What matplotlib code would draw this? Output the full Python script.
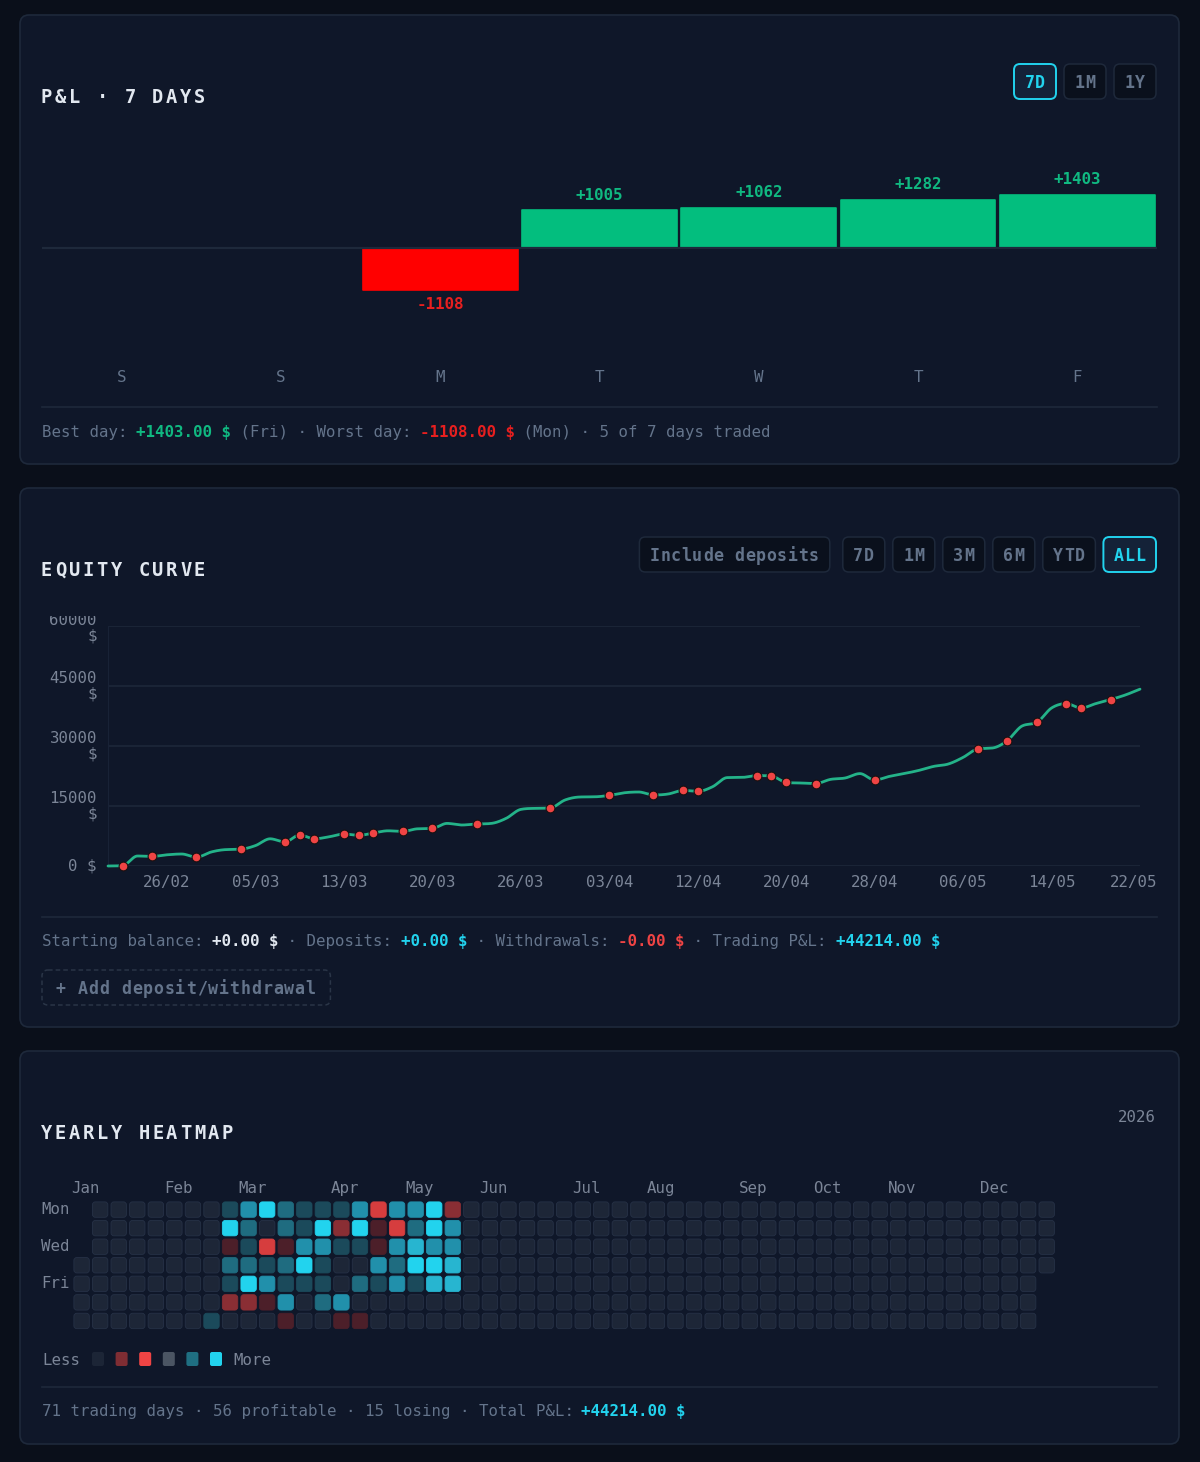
import datetime as dt

import numpy as np
import matplotlib
matplotlib.use("Agg")
import matplotlib.pyplot as plt
from matplotlib.patches import FancyBboxPatch
from matplotlib.transforms import Bbox, TransformedBbox

W, H, DPI = 1200, 1462, 100
FONT = "DejaVu Sans Mono"
plt.rcParams["font.family"] = [FONT, "DejaVu Sans"]

# ---- palette -----------------------------------------------------------------
BG = "#0a0f1a"
PANEL = "#0f1729"
BORDER = "#1e293b"
TITLE = "#e2e8f0"
MUTED = "#64748b"
AXIS_TXT = "#7b8597"
CYAN = "#22d3ee"
GREEN = "#10b981"
GREEN_BAR = "#03be7e"
RED_BAR = "#ff0000"
RED_TXT = "#e81f1f"
RED = "#ef4444"
LINE = "#24b389"

# ---- data: P&L 7 days ----------------------------------------------------------
DAYS = ["S", "S", "M", "T", "W", "T", "F"]
DAY_PNL = [0, 0, -1108, 1005, 1062, 1282, 1403]

# ---- data: equity curve (one point per trading day) ----------------------------
EQUITY = [
    0, 100, 2500, 2400, 2800, 3000, 2200, 3500, 4100, 4200,
    5100, 6800, 6000, 7750, 6800, 7300, 8000, 7650, 8250, 8800,
    8650, 9300, 9400, 10650, 10250, 10500, 10650, 11900, 14150, 14400,
    14500, 16500, 17250, 17300, 17650, 18300, 18500, 17750, 18000, 18900,
    18650, 19800, 22100, 22150, 22600, 22500, 20900, 20750, 20600, 21650,
    22000, 23100, 21500, 22400, 23100, 23900, 24900, 25500, 27150, 29250,
    29500, 31350, 35000, 35900, 39500, 40600, 39500, 40600, 41600, 42750,
    44214,
]
MARKED_DAYS = [1, 3, 6, 9, 12, 13, 14, 16, 17, 18, 20, 22, 25, 30, 34, 37, 39,
               40, 44, 45, 46, 48, 52, 59, 61, 63, 65, 66, 68]
EQ_TICK_POS = [4, 10, 16, 22, 28, 34, 40, 46, 52, 58, 64, 70]
EQ_TICK_LABELS = ["26/02", "05/03", "13/03", "20/03", "26/03", "03/04",
                  "12/04", "20/04", "28/04", "06/05", "14/05", "22/05"]
EQ_YTICKS = [0, 15000, 30000, 45000, 60000]
EQ_YLABELS = ["0 $", "15000\n$", "30000\n$", "45000\n$", "60000\n$"]

# ---- data: yearly heatmap ------------------------------------------------------
HEAT_YEAR = 2026
MONTHS = ["Jan", "Feb", "Mar", "Apr", "May", "Jun",
          "Jul", "Aug", "Sep", "Oct", "Nov", "Dec"]
MONTH_COLS = [0, 5, 9, 14, 18, 22, 27, 31, 36, 40, 44, 49]
WEEKDAY_LABELS = {0: "Mon", 2: "Wed", 4: "Fri"}
HEAT_FIRST_WEEK = 7
# rows Mon..Sun, columns = weeks 7..20; >0 profit intensity, <0 loss intensity
HEAT_LEVELS = [
    [0, 1, 3, 5, 2, 1, 1, 1, 3, -3, 3, 3, 5, -2],
    [0, 5, 2, 0, 2, 1, 5, -2, 5, -1, -3, 2, 5, 3],
    [0, -1, 1, -3, -1, 3, 3, 1, 1, -1, 3, 4, 3, 3],
    [0, 2, 2, 1, 2, 5, 1, 0, 0, 3, 2, 5, 5, 4],
    [0, 1, 5, 3, 1, 1, 1, 0, 2, 1, 3, 1, 4, 4],
    [0, -2, -2, -1, 3, 0, 2, 3, 0, 0, 0, 0, 0, 0],
    [1, 0, 0, 0, -1, 0, 0, -1, -1, 0, 0, 0, 0, 0],
]
LEVEL_COLORS = {
    0: "#1d2637", 1: "#1b4a5b", 2: "#1f6c80", 3: "#2190ab", 4: "#27b5d0",
    5: "#22d3ee", -1: "#4c1f29", -2: "#8a2e34", -3: "#d63d3e",
}
LEGEND_COLORS = ["#1c2536", "#7f2d33", "#ef4444", "#4b5563", "#1f6f82", "#22d3ee"]


# ---- helpers -------------------------------------------------------------------
def px_axes(fig, left, top, right, bottom):
    return fig.add_axes([left / W, 1 - bottom / H, (right - left) / W, (bottom - top) / H])


def base_y(y_center, size):
    # put the baseline so that capitals sit centred on y_center
    return y_center + 0.365 * size * DPI / 72


def segments(ax, x, y, parts, size=11.3):
    adv = 0.602 * size * DPI / 72
    for txt, color, weight in parts:
        ax.text(x, base_y(y, size), txt, color=color, fontweight=weight,
                fontsize=size, ha="left", va="baseline", family=FONT)
        x += len(txt) * adv


def spaced(ax, x, y, txt, step, size, color, weight="bold"):
    for i, ch in enumerate(txt):
        ax.text(x + i * step, base_y(y, size), ch, color=color, fontsize=size,
                fontweight=weight, ha="left", va="baseline", family=FONT)


def panel(ax, top, bottom):
    ax.add_patch(FancyBboxPatch((20, top), 1159, bottom - top,
                                boxstyle="round,pad=0,rounding_size=9",
                                fc=PANEL, ec=BORDER, lw=1.2, zorder=1))


def button(ax, x0, top, label, active=False, dashed=False, step=10.6, size=12, pad=10.4):
    w = len(label) * step + 2 * pad
    if dashed:
        fc, ec, ls, tc = "none", "#2a3547", (0, (3, 2)), MUTED
    elif active:
        fc, ec, ls, tc = "#142238", CYAN, "-", CYAN
    else:
        fc, ec, ls, tc = "#0a101c", BORDER, "-", MUTED
    ax.add_patch(FancyBboxPatch((x0, top), w, 35, boxstyle="round,pad=0,rounding_size=6",
                                fc=fc, ec=ec, lw=1.4 if active else 1.1, ls=ls, zorder=2))
    spaced(ax, x0 + pad, top + 17.5, label, step, size, tc)
    return w


def button_row(ax, labels, active, right, top, gaps):
    x = right
    for label, gap in zip(reversed(labels), reversed(gaps)):
        w = len(label) * 10.6 + 20.8
        x -= w
        button(ax, x, top, label, active=(label == active))
        x -= gap


def monotone_curve(y, n=24):
    y = np.asarray(y, float)
    x = np.arange(len(y), dtype=float)
    d = np.diff(y)
    m = np.zeros_like(y)
    m[0], m[-1] = d[0], d[-1]
    same = d[:-1] * d[1:] > 0
    m[1:-1] = np.where(same, (d[:-1] + d[1:]) / 2, 0.0)
    for k in range(len(d)):
        if d[k] == 0:
            m[k] = m[k + 1] = 0.0
            continue
        a, b = m[k] / d[k], m[k + 1] / d[k]
        s = a * a + b * b
        if s > 9:
            t = 3 / np.sqrt(s)
            m[k], m[k + 1] = t * a * d[k], t * b * d[k]
    xs, ys = [], []
    for k in range(len(d)):
        t = np.linspace(0, 1, n, endpoint=False)
        h00 = 2 * t**3 - 3 * t**2 + 1
        h10 = t**3 - 2 * t**2 + t
        h01 = -2 * t**3 + 3 * t**2
        h11 = t**3 - t**2
        xs.append(x[k] + t)
        ys.append(h00 * y[k] + h10 * m[k] + h01 * y[k + 1] + h11 * m[k + 1])
    xs.append([x[-1]])
    ys.append([y[-1]])
    return np.concatenate(xs), np.concatenate(ys)


# ---- figure --------------------------------------------------------------------
fig = plt.figure(figsize=(W / DPI, H / DPI), dpi=DPI)
fig.patch.set_facecolor(BG)
base = fig.add_axes([0, 0, 1, 1])
base.set_xlim(0, W)
base.set_ylim(H, 0)
base.axis("off")

# ================= panel 1: P&L 7 days =================
panel(base, 15, 464)
spaced(base, 41, 96, "P&L · 7 DAYS", 13.9, 13.5, TITLE)
button_row(base, ["7D", "1M", "1Y"], "7D", 1156, 64, [8, 8, 8])

bx = px_axes(fig, 42, 160, 1157, 340)
bx.set_facecolor("none")
bx.axis("off")
bx.set_xlim(-0.5, len(DAYS) - 0.5)
bx.set_ylim(-2434, 2328)
xs = np.arange(len(DAYS))
colors = [GREEN_BAR if v >= 0 else RED_BAR for v in DAY_PNL]
bx.bar(xs, DAY_PNL, width=0.972, color=colors, edgecolor=colors,
       linewidth=[1.2 if v else 0 for v in DAY_PNL], joinstyle="round", zorder=2)
bx.axhline(0, color=BORDER, lw=1.6, zorder=3)
for i, v in enumerate(DAY_PNL):
    if v == 0:
        continue
    bx.annotate(f"{v:+d}", xy=(i, v), xytext=(0, 15 if v > 0 else -15),
                textcoords="offset pixels", ha="center", va="center",
                color=GREEN if v > 0 else RED_TXT, fontsize=11.4, fontweight="bold")
for i, d in enumerate(DAYS):
    bx.annotate(d, xy=(i, 0), xycoords=("data", "axes fraction"), xytext=(0, -37),
                textcoords="offset pixels", ha="center", va="center",
                color=MUTED, fontsize=11.4)

base.plot([42, 1157], [407, 407], color=BORDER, lw=1.2)
best = int(np.argmax(DAY_PNL))
worst = int(np.argmin(DAY_PNL))
day_names = ["Sat", "Sun", "Mon", "Tue", "Wed", "Thu", "Fri"]
traded = sum(1 for v in DAY_PNL if v != 0)
segments(base, 42, 431, [
    ("Best day: ", MUTED, "normal"),
    (f"{DAY_PNL[best]:+.2f} $", GREEN, "bold"),
    (f" ({day_names[best]}) · Worst day: ", MUTED, "normal"),
    (f"{DAY_PNL[worst]:+.2f} $", RED_TXT, "bold"),
    (f" ({day_names[worst]}) · {traded} of {len(DAY_PNL)} days traded", MUTED, "normal"),
])

# ================= panel 2: equity curve =================
panel(base, 488, 1027)
spaced(base, 41, 569, "EQUITY CURVE", 13.9, 13.5, TITLE)
button_row(base, ["Include deposits", "7D", "1M", "3M", "6M", "YTD", "ALL"], "ALL",
           1156, 537, [8, 13, 8, 8, 8, 8, 8])

ex = px_axes(fig, 108, 626, 1140, 866)
ex.set_facecolor("none")
ex.set_xlim(0, len(EQUITY) - 1)
ex.set_ylim(0, 60000)
for s in ("top", "right", "bottom"):
    ex.spines[s].set_visible(False)
ex.spines["left"].set_color("#182236")
ex.set_xticks([])
ex.set_yticks(EQ_YTICKS)
ex.set_yticklabels([])
ex.tick_params(length=0)
ex.yaxis.grid(True, color=BORDER, lw=1.1)
ex.set_axisbelow(True)

cx, cy = monotone_curve(EQUITY)
ex.plot(cx, cy, color=LINE, lw=2.0, solid_capstyle="round", zorder=3, clip_on=False)
ex.scatter(MARKED_DAYS, [EQUITY[i] for i in MARKED_DAYS], s=40, color=RED,
           edgecolors="#1a1111", linewidths=0.8, zorder=4, clip_on=False)

clip = TransformedBbox(Bbox.from_extents(0, 0, 1, 1 - 616 / H), fig.transFigure)
for v, lab in zip(EQ_YTICKS, EQ_YLABELS):
    t = ex.annotate(lab, xy=(0, v), xycoords=("axes fraction", "data"),
                    xytext=(-11, -2 if v == EQ_YTICKS[-1] else 0),
                    textcoords="offset pixels", ha="right", va="center",
                    color=AXIS_TXT, fontsize=11.3, linespacing=1.05,
                    annotation_clip=False)
    t.set_clip_box(clip)
    t.set_clip_on(True)
for i, (p, lab) in enumerate(zip(EQ_TICK_POS, EQ_TICK_LABELS)):
    last = i == len(EQ_TICK_POS) - 1
    ex.annotate(lab, xy=(p, 0), xycoords=("data", "axes fraction"),
                xytext=(17 if last else 0, -16), textcoords="offset pixels",
                ha="right" if last else "center", va="center",
                color=AXIS_TXT, fontsize=11.3, annotation_clip=False)

base.plot([42, 1157], [917, 917], color=BORDER, lw=1.2)
segments(base, 42, 940, [
    ("Starting balance: ", MUTED, "normal"),
    ("+0.00 $", TITLE, "bold"),
    (" · Deposits: ", MUTED, "normal"),
    ("+0.00 $", CYAN, "bold"),
    (" · Withdrawals: ", MUTED, "normal"),
    ("-0.00 $", RED, "bold"),
    (" · Trading P&L: ", MUTED, "normal"),
    (f"{EQUITY[-1]:+.2f} $", CYAN, "bold"),
])
button(base, 42, 970, "+ Add deposit/withdrawal", dashed=True, step=10.85, pad=14)

# ================= panel 3: yearly heatmap =================
panel(base, 1051, 1444)
spaced(base, 41, 1132, "YEARLY HEATMAP", 13.9, 13.5, TITLE)
base.text(1156, base_y(1116, 11.3), str(HEAT_YEAR), ha="right", va="baseline",
          color=AXIS_TXT, fontsize=11.3)

pitch = 18.56
hx = px_axes(fig, 72.3, 1200.3, 72.3 + 53 * pitch, 1200.3 + 7 * pitch)
hx.set_facecolor("none")
hx.axis("off")
hx.set_xlim(0, 53)
hx.set_ylim(7, 0)
jan1 = dt.date(HEAT_YEAR, 1, 1)
first_wd = jan1.weekday()
n_days = (dt.date(HEAT_YEAR + 1, 1, 1) - jan1).days
for d in range(n_days):
    day = jan1 + dt.timedelta(days=d)
    col = (d + first_wd) // 7
    row = day.weekday()
    k = col - HEAT_FIRST_WEEK
    lvl = HEAT_LEVELS[row][k] if 0 <= k < len(HEAT_LEVELS[0]) else 0
    hx.add_patch(FancyBboxPatch((col + 0.085, row + 0.085), 0.83, 0.83,
                                boxstyle="round,pad=0,rounding_size=0.16",
                                fc=LEVEL_COLORS[lvl],
                                ec="#263146" if lvl == 0 else LEVEL_COLORS[lvl],
                                lw=0.6))
for m, c in zip(MONTHS, MONTH_COLS):
    hx.text(c - 0.07, -0.61, m, ha="left", va="center", color=AXIS_TXT, fontsize=11.3)
for r, name in WEEKDAY_LABELS.items():
    hx.text(-1.69, r + 0.5, name, ha="left", va="center", color=AXIS_TXT, fontsize=11.3)

# legend
segments(base, 42, 1359, [("Less", AXIS_TXT, "normal")])
for i, c in enumerate(LEGEND_COLORS):
    base.add_patch(FancyBboxPatch((92 + i * 23.6, 1352), 12, 14,
                                  boxstyle="round,pad=0,rounding_size=2",
                                  fc=c, ec="none", zorder=2))
segments(base, 233, 1359, [("More", AXIS_TXT, "normal")])

levels = [v for row in HEAT_LEVELS for v in row if v != 0]
n_trading = len(levels)
n_win = sum(1 for v in levels if v > 0)
n_loss = n_trading - n_win
base.plot([42, 1157], [1387, 1387], color=BORDER, lw=1.2)
segments(base, 42, 1410, [
    (f"{n_trading} trading days · {n_win} profitable · {n_loss} losing · Total P&L: ",
     MUTED, "normal"),
    (f"{EQUITY[-1]:+.2f} $", CYAN, "bold"),
])

fig.savefig("out.png", dpi=DPI, facecolor=BG)
